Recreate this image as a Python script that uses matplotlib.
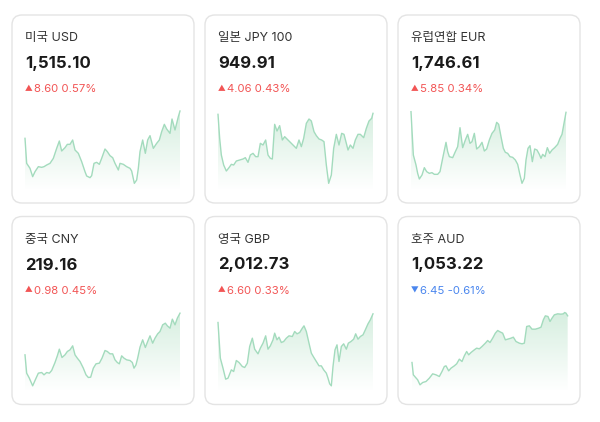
import numpy as np
import matplotlib.pyplot as plt
from matplotlib.patches import FancyBboxPatch, Polygon

plt.rcParams['font.family'] = ['Inter', 'Noto Sans CJK KR', 'DejaVu Sans']

names = ['미국 USD', '일본 JPY 100', '유럽연합 EUR', '중국 CNY', '영국 GBP', '호주 AUD']
prices = ['1,515.10', '949.91', '1,746.61', '219.16', '2,012.73', '1,053.22']
changes = ['8.60 0.57%', '4.06 0.43%', '5.85 0.34%', '0.98 0.45%', '6.60 0.33%', '6.45 -0.61%']
is_up = [True, True, True, True, True, False]

# sparkline readings: x position, height (screen y, 0 = top)
usd_x = [15, 20, 30, 38, 45, 55, 65, 72, 80, 90, 100, 110, 118, 125, 135, 142, 150, 158, 165, 175,
         185, 195, 200, 210, 215, 222, 230, 238, 245, 255, 262, 270, 278, 285, 295, 300, 310, 320, 330, 335,
         343, 350, 355, 360, 368, 376, 383, 390, 400, 410, 418, 425, 433, 440, 450, 456, 465, 475, 480]
usd_y = [100, 175, 190, 215, 200, 185, 187, 185, 180, 175, 160, 130, 108, 138, 128, 118, 118, 105, 135, 145,
         170, 200, 213, 218, 212, 175, 172, 178, 160, 132, 140, 152, 158, 175, 195, 175, 178, 185, 190, 198,
         235, 225, 190, 140, 105, 145, 105, 92, 130, 115, 105, 80, 58, 72, 85, 42, 75, 35, 18]

jpy_x = [15, 20, 25, 32, 40, 48, 55, 62, 70, 80, 90, 97, 105, 112, 120, 128, 135, 142, 150, 158,
         165, 172, 178, 185, 192, 200, 208, 215, 225, 235, 245, 250, 258, 265, 272, 280, 288, 295, 303, 310,
         318, 326, 333, 340, 347, 355, 362, 370, 378, 386, 393, 400, 405, 412, 420, 427, 435, 442, 452, 460,
         468, 476, 480]
jpy_y = [28, 100, 150, 180, 198, 188, 178, 180, 168, 165, 162, 158, 172, 150, 145, 155, 155, 115, 120, 105,
         150, 160, 162, 58, 78, 62, 105, 95, 105, 115, 125, 130, 105, 125, 100, 55, 42, 48, 80, 92,
         102, 105, 110, 180, 235, 210, 130, 88, 120, 85, 88, 115, 135, 120, 130, 105, 88, 88, 98, 70,
         48, 40, 25]

eur_x = [15, 22, 30, 35, 40, 48, 55, 62, 70, 78, 85, 95, 102, 110, 120, 125, 130, 140, 148, 155,
         162, 170, 178, 185, 192, 198, 205, 212, 220, 228, 235, 242, 250, 258, 266, 272, 278, 285, 292, 298,
         305, 312, 320, 328, 335, 342, 348, 355, 360, 366, 372, 379, 386, 393, 400, 405, 410, 417, 424, 431,
         438, 446, 455, 462, 468, 474, 480]
eur_y = [20, 150, 180, 205, 222, 210, 188, 200, 205, 203, 208, 208, 200, 160, 112, 140, 155, 158, 140, 125,
         68, 128, 105, 88, 115, 110, 85, 132, 125, 112, 138, 132, 105, 85, 75, 52, 58, 95, 130, 142,
         145, 155, 157, 165, 178, 210, 235, 220, 165, 130, 122, 170, 132, 135, 148, 160, 148, 155, 128, 145,
         135, 128, 118, 100, 88, 55, 22]

cny_x = [15, 20, 28, 38, 45, 55, 65, 72, 80, 88, 95, 105, 112, 118, 126, 135, 142, 150, 158, 165,
         172, 180, 190, 198, 205, 212, 220, 228, 238, 246, 255, 262, 270, 278, 285, 292, 298, 305, 312, 320,
         330, 337, 342, 348, 353, 360, 368, 376, 383, 390, 398, 405, 413, 420, 428, 436, 442, 450, 457, 465,
         472, 480]
cny_y = [145, 200, 215, 238, 222, 200, 198, 205, 198, 200, 192, 168, 148, 128, 153, 145, 135, 130, 118, 145,
         155, 165, 185, 205, 213, 212, 185, 172, 170, 155, 132, 135, 142, 142, 160, 168, 172, 148, 155, 160,
         162, 168, 185, 175, 155, 122, 100, 123, 105, 88, 110, 95, 82, 75, 55, 50, 58, 65, 38, 55,
         35, 20]

gbp_x = [15, 22, 30, 38, 45, 55, 62, 70, 78, 88, 95, 103, 110, 118, 125, 135, 142, 150, 158, 165,
         172, 180, 185, 192, 198, 205, 212, 220, 228, 238, 245, 252, 260, 268, 273, 280, 288, 295, 302, 310,
         318, 325, 332, 340, 345, 350, 355, 360, 366, 372, 378, 385, 392, 400, 406, 414, 422, 428, 435, 442,
         450, 457, 465, 472, 480]
gbp_y = [48, 155, 185, 218, 215, 190, 195, 162, 168, 180, 183, 170, 120, 95, 128, 142, 125, 110, 88, 128,
         118, 100, 80, 100, 92, 108, 105, 95, 88, 90, 75, 82, 78, 65, 58, 75, 110, 140, 152, 165,
         178, 178, 190, 200, 215, 232, 238, 180, 130, 115, 165, 120, 112, 128, 110, 105, 98, 82, 98, 90,
         85, 70, 52, 40, 22]

aud_x = [18, 22, 28, 35, 42, 50, 60, 70, 80, 90, 100, 108, 115, 120, 128, 135, 145, 152, 160, 168,
         175, 182, 188, 195, 205, 212, 220, 228, 238, 245, 252, 260, 268, 275, 282, 290, 298, 305, 315, 322,
         330, 340, 348, 355, 362, 370, 378, 388, 398, 405, 412, 418, 426, 432, 438, 445, 455, 465, 472, 476,
         480, 485]
aud_y = [168, 205, 212, 220, 235, 228, 225, 215, 202, 205, 210, 195, 180, 178, 193, 185, 178, 172, 158, 165,
         148, 135, 145, 138, 130, 125, 127, 120, 110, 102, 108, 95, 80, 72, 76, 80, 100, 98, 95, 92,
         105, 110, 112, 110, 60, 58, 68, 68, 65, 62, 40, 28, 30, 45, 35, 25, 22, 23, 22, 18,
         20, 28]

series = [(usd_x, usd_y), (jpy_x, jpy_y), (eur_x, eur_y),
          (cny_x, cny_y), (gbp_x, gbp_y), (aud_x, aud_y)]

fig = plt.figure(figsize=(6, 4.22), dpi=100)
fig.patch.set_facecolor('white')
bg = fig.add_axes([0, 0, 1, 1])
bg.set_xlim(0, 600)
bg.set_ylim(422, 0)
bg.axis('off')

card_x = [12, 205, 398]
card_y = [15, 216.5]
cw, ch = 182, 188

# vertical gradient for the area under the line
grad = np.zeros((256, 1, 4))
grad[:, 0, 0] = 0.45
grad[:, 0, 1] = 0.78
grad[:, 0, 2] = 0.58
grad[:, 0, 3] = np.linspace(0.0, 0.32, 256)

for i in range(6):
    cx = card_x[i % 3]
    cy = card_y[i // 3]
    bg.add_patch(FancyBboxPatch((cx, cy), cw, ch, boxstyle='round,pad=0,rounding_size=10',
                                fc='white', ec='#e4e4e4', lw=1))
    bg.text(cx + 13, cy + 23, names[i], fontsize=9.0, color='#333333', va='center')
    bg.text(cx + 13, cy + 48.5, prices[i], fontsize=12.0, weight='bold', color='#1a1a1a', va='center')
    col = '#f25555' if is_up[i] else '#4a86ee'
    arrow = '▲' if is_up[i] else '▼'
    bg.text(cx + 17, cy + 74, arrow, fontsize=5.5, color=col, va='center', ha='center',
            family=['Noto Sans CJK KR', 'DejaVu Sans'])
    bg.text(cx + 22, cy + 74, changes[i], fontsize=8.2, color=col, va='center')

    ax = fig.add_axes([(cx + 8) / 600, 1 - (cy + 90 + 85) / 422, 165 / 600, 85 / 422])
    ax.set_xlim(0, 495)
    ax.set_ylim(0, 255)
    ax.axis('off')
    x = np.array(series[i][0])
    v = 255 - np.array(series[i][1])
    verts = [(x[0], 0)] + list(zip(x, v)) + [(x[-1], 0)]
    poly = Polygon(verts, fc='none', ec='none')
    ax.add_patch(poly)
    im = ax.imshow(grad, extent=[0, 495, 0, 255], aspect='auto', origin='lower')
    im.set_clip_path(poly)
    ax.plot(x, v, color='#a3dbbd', lw=1.0)

fig.savefig('out.png', dpi=100, facecolor='white')
